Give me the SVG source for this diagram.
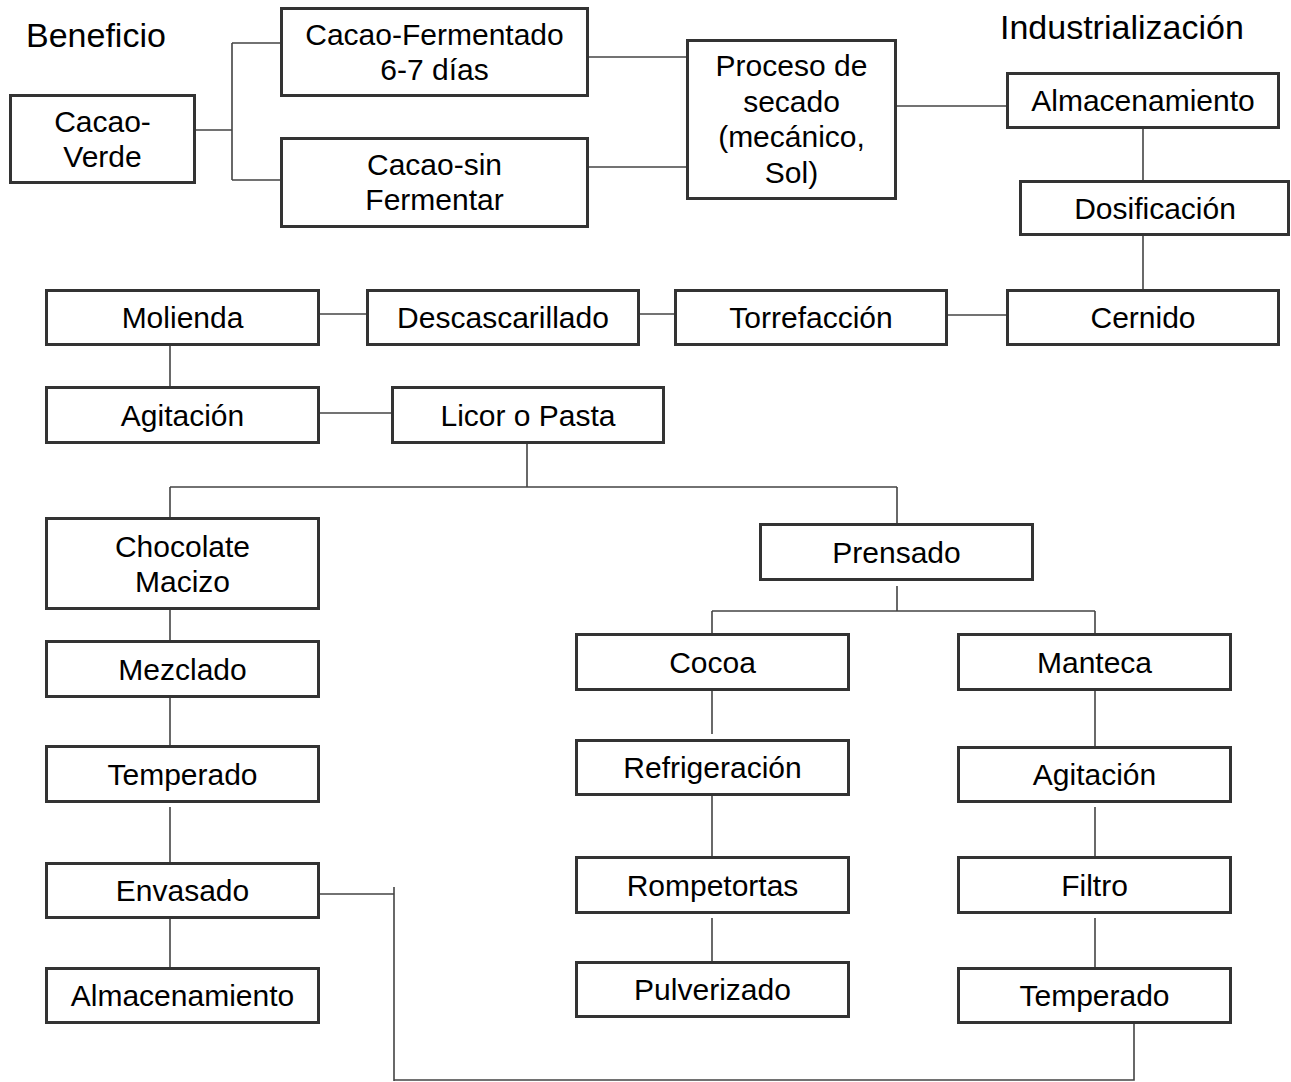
<svg xmlns="http://www.w3.org/2000/svg" width="1291" height="1082" viewBox="0 0 1291 1082">
<style>
.box{fill:#fff;stroke:#333;stroke-width:3}
.t{font-family:"Liberation Sans",Arial,sans-serif;font-size:30px;fill:#000;text-anchor:middle}
.h{font-family:"Liberation Sans",Arial,sans-serif;font-size:34px;fill:#000}
.c{fill:none;stroke:#444;stroke-width:1.6}
</style>
<rect width="1291" height="1082" fill="#fff"/>
<text class="h" x="26" y="47">Beneficio</text>
<text class="h" x="1000" y="39">Industrialización</text>
<g id="connectors" class="c">
<path d="M196 130H232M232 43V180M232 43H280M232 180H280"/>
<path d="M589 57H686"/>
<path d="M589 167H686"/>
<path d="M897 106H1006"/>
<path d="M1143 129V180"/>
<path d="M1143 235V289"/>
<path d="M948 315H1006"/>
<path d="M640 314H674"/>
<path d="M320 314H366"/>
<path d="M170 346V386"/>
<path d="M320 413H391"/>
<path d="M527 437V487M170 487H897M170 487V519M897 487V523"/>
<path d="M170 610V640"/>
<path d="M170 698V745"/>
<path d="M170 807V868"/>
<path d="M170 919V967"/>
<path d="M897 586V611M712 611H1095M712 611V633M1095 611V633"/>
<path d="M712 684V734"/>
<path d="M1095 690V746"/>
<path d="M712 796V856"/>
<path d="M712 918V968"/>
<path d="M1095 807V856"/>
<path d="M1095 918V968"/>
<path d="M1134 1024V1080H394"/>
<path d="M320 894H394M394 887V1081"/>
</g>
<g id="cacao-verde"><rect class="box" x="10.5" y="95.5" width="184" height="87"/><text class="t" x="102.5" y="132">Cacao-</text><text class="t" x="102.5" y="167">Verde</text></g>
<g id="cacao-fermentado"><rect class="box" x="281.5" y="8.5" width="306" height="87"/><text class="t" x="434.5" y="45">Cacao-Fermentado</text><text class="t" x="434.5" y="80">6-7 días</text></g>
<g id="cacao-sin-fermentar"><rect class="box" x="281.5" y="138.5" width="306" height="88"/><text class="t" x="434.5" y="175">Cacao-sin</text><text class="t" x="434.5" y="210">Fermentar</text></g>
<g id="proceso-secado"><rect class="box" x="687.5" y="40.5" width="208" height="158"/><text class="t" x="791.5" y="76">Proceso de</text><text class="t" x="791.5" y="111.5">secado</text><text class="t" x="791.5" y="147">(mecánico,</text><text class="t" x="791.5" y="182.5">Sol)</text></g>
<g id="almacenamiento-1"><rect class="box" x="1007.5" y="73.5" width="271" height="54"/><text class="t" x="1143" y="111">Almacenamiento</text></g>
<g id="dosificacion"><rect class="box" x="1020.5" y="181.5" width="268" height="53"/><text class="t" x="1155" y="218.5">Dosificación</text></g>
<g id="cernido"><rect class="box" x="1007.5" y="290.5" width="271" height="54"/><text class="t" x="1143" y="328">Cernido</text></g>
<g id="torrefaccion"><rect class="box" x="675.5" y="290.5" width="271" height="54"/><text class="t" x="811" y="328">Torrefacción</text></g>
<g id="descascarillado"><rect class="box" x="367.5" y="290.5" width="271" height="54"/><text class="t" x="503" y="328">Descascarillado</text></g>
<g id="molienda"><rect class="box" x="46.5" y="290.5" width="272" height="54"/><text class="t" x="182.5" y="328">Molienda</text></g>
<g id="agitacion-1"><rect class="box" x="46.5" y="387.5" width="272" height="55"/><text class="t" x="182.5" y="425.5">Agitación</text></g>
<g id="licor-pasta"><rect class="box" x="392.5" y="387.5" width="271" height="55"/><text class="t" x="528" y="425.5">Licor o Pasta</text></g>
<g id="chocolate-macizo"><rect class="box" x="46.5" y="518.5" width="272" height="90"/><text class="t" x="182.5" y="557">Chocolate</text><text class="t" x="182.5" y="592">Macizo</text></g>
<g id="mezclado"><rect class="box" x="46.5" y="641.5" width="272" height="55"/><text class="t" x="182.5" y="679.5">Mezclado</text></g>
<g id="temperado-1"><rect class="box" x="46.5" y="746.5" width="272" height="55"/><text class="t" x="182.5" y="784.5">Temperado</text></g>
<g id="envasado"><rect class="box" x="46.5" y="863.5" width="272" height="54"/><text class="t" x="182.5" y="901">Envasado</text></g>
<g id="almacenamiento-2"><rect class="box" x="46.5" y="968.5" width="272" height="54"/><text class="t" x="182.5" y="1006">Almacenamiento</text></g>
<g id="prensado"><rect class="box" x="760.5" y="524.5" width="272" height="55"/><text class="t" x="896.5" y="562.5">Prensado</text></g>
<g id="cocoa"><rect class="box" x="576.5" y="634.5" width="272" height="55"/><text class="t" x="712.5" y="672.5">Cocoa</text></g>
<g id="manteca"><rect class="box" x="958.5" y="634.5" width="272" height="55"/><text class="t" x="1094.5" y="672.5">Manteca</text></g>
<g id="refrigeracion"><rect class="box" x="576.5" y="740.5" width="272" height="54"/><text class="t" x="712.5" y="778">Refrigeración</text></g>
<g id="agitacion-2"><rect class="box" x="958.5" y="747.5" width="272" height="54"/><text class="t" x="1094.5" y="785">Agitación</text></g>
<g id="rompetortas"><rect class="box" x="576.5" y="857.5" width="272" height="55"/><text class="t" x="712.5" y="895.5">Rompetortas</text></g>
<g id="filtro"><rect class="box" x="958.5" y="857.5" width="272" height="55"/><text class="t" x="1094.5" y="895.5">Filtro</text></g>
<g id="pulverizado"><rect class="box" x="576.5" y="962.5" width="272" height="54"/><text class="t" x="712.5" y="1000">Pulverizado</text></g>
<g id="temperado-2"><rect class="box" x="958.5" y="968.5" width="272" height="54"/><text class="t" x="1094.5" y="1006">Temperado</text></g>
</svg>
